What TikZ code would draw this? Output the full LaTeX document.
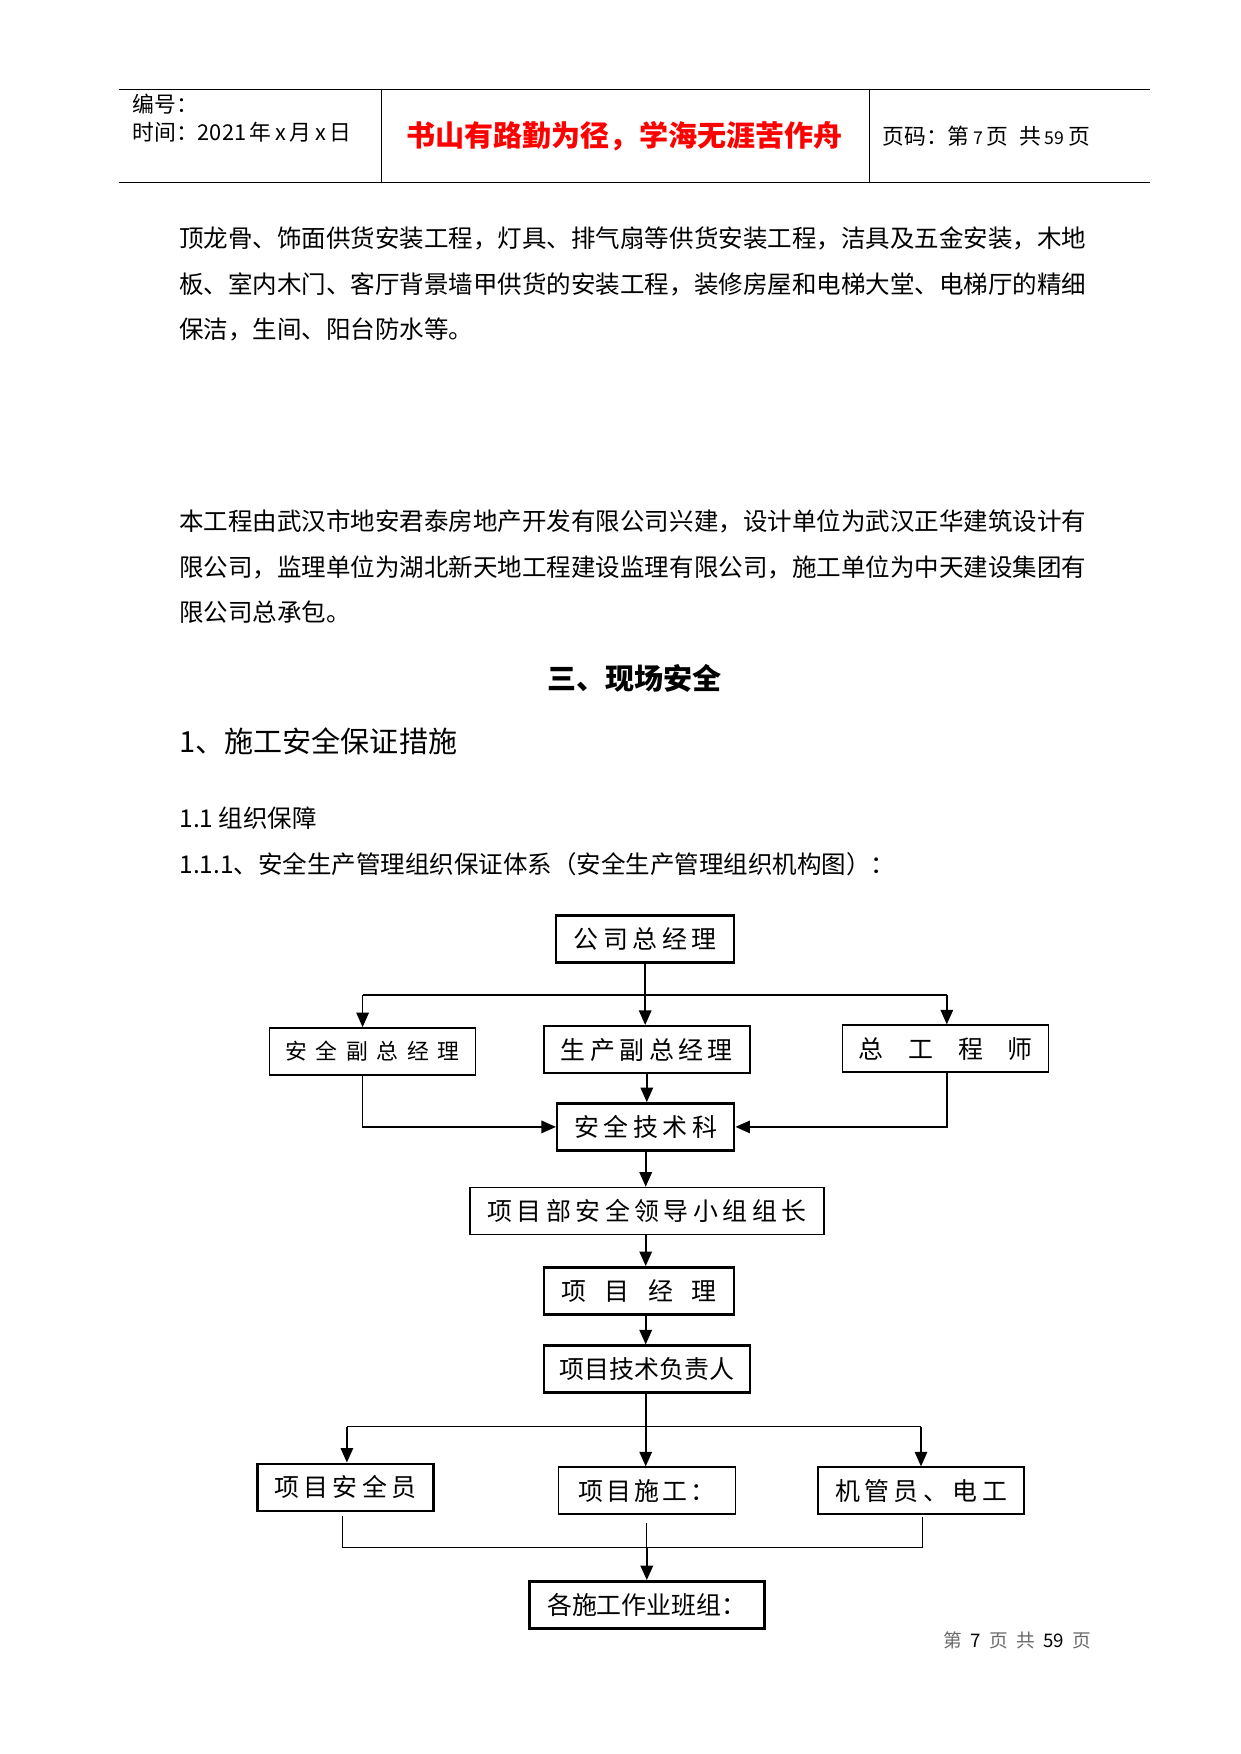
\documentclass[tikz,border=0pt]{standalone}
\usepackage{fontspec}
\setmainfont{Noto Sans CJK SC}
\usetikzlibrary{positioning, arrows.meta}
\definecolor{MottoRed}{RGB}{255, 0, 0}
\definecolor{FooterGray}{RGB}{105, 105, 105}
\newcommand{\pxu}{0.16925mm}

\begin{document}
\begin{tikzpicture}[
    x=0.16925mm, y=-0.16925mm,
    font=\fontsize{12}{14}\selectfont,
    textline/.style={anchor=west, inner sep=0pt, font=\fontsize{11.8}{14}\selectfont},
    headline/.style={anchor=west, inner sep=0pt, font=\fontsize{10.5}{12}\selectfont},
    boxstyle/.style={rectangle, draw=black, line width=0.7pt, fill=white, inner sep=0pt, minimum height=47*\pxu, font=\fontsize{12}{14}\selectfont},
    thickbox/.style={boxstyle, line width=1.2pt},
    spaced/.style={font=\fontsize{12}{14}\selectfont\addfontfeature{LetterSpace=18}},
    arrowstyle/.style={-{Triangle[length=7pt, width=6pt]}, line width=0.8pt},
    thinline/.style={line width=0.5pt}
]
    \useasboundingbox (0,0) rectangle (1241,1754);

    % Page header
    \draw [thinline] (118.6,89.5) -- (1150,89.5);
    \draw [thinline] (118.6,182.4) -- (1150,182.4);
    \draw [thinline] (381.6,89.5) -- (381.6,182.4);
    \draw [thinline] (869.5,89.5) -- (869.5,182.4);
    \node (hd_no) [headline] at (132,104) {编号：};
    \node (hd_date) [headline] at (132,132) {时间：2021\,年\,x\,月\,x\,日};
    \node (hd_motto) [inner sep=0pt, font=\fontsize{14}{16}\selectfont\bfseries, text=MottoRed] at (624.5,136.5) {书山有路勤为径，学海无涯苦作舟};
    \node (hd_page) [headline] at (882,136.5) {页码：第\,{\fontsize{8.5}{10}\selectfont 7}\,页\hspace{0.5em}共\,{\fontsize{8.5}{10}\selectfont 59}\,页};

    % Body text
    \node (p1_a) [textline] at (179,238) {顶龙骨、饰面供货安装工程，灯具、排气扇等供货安装工程，洁具及五金安装，木地};
    \node (p1_b) [textline] at (179,284) {板、室内木门、客厅背景墙甲供货的安装工程，装修房屋和电梯大堂、电梯厅的精细};
    \node (p1_c) [textline] at (179,329) {保洁，生间、阳台防水等。};
    \node (p2_a) [textline] at (179,521.5) {本工程由武汉市地安君泰房地产开发有限公司兴建，设计单位为武汉正华建筑设计有};
    \node (p2_b) [textline] at (179,567.4) {限公司，监理单位为湖北新天地工程建设监理有限公司，施工单位为中天建设集团有};
    \node (p2_c) [textline] at (179,612.2) {限公司总承包。};
    \node (sec_title) [inner sep=0pt, font=\fontsize{14}{16}\selectfont\bfseries] at (634.5,678) {三、现场安全};
    \node (sec_1) [anchor=west, inner sep=0pt, font=\fontsize{14}{16}\selectfont] at (179,741) {1、施工安全保证措施};
    \node (sec_11) [textline] at (179,818) {1.1 组织保障};
    \node (sec_111) [textline] at (179,864) {1.1.1、安全生产管理组织保证体系（安全生产管理组织机构图）：};

    % Level 1: company
    \node (gm) [thickbox, spaced, minimum width=178*\pxu] at (645.2,938.9) {公司总经理};

    % Level 2: deputies
    \node (safety_vp) [boxstyle, minimum width=206*\pxu, font=\fontsize{10.5}{12}\selectfont\addfontfeature{LetterSpace=40}] at (372.6,1051.4) {安全副总经理};
    \node (prod_vp) [thickbox, spaced, minimum width=206*\pxu] at (646.8,1049.7) {生产副总经理};
    \node (chief_eng) [boxstyle, minimum width=206*\pxu] at (945.6,1048.6) {总\hspace{1em}工\hspace{1em}程\hspace{1em}师};

    % Level 3: project chain
    \node (safety_dept) [thickbox, spaced, minimum width=177*\pxu] at (645.7,1126.9) {安全技术科};
    \node (leader) [boxstyle, spaced, minimum width=354*\pxu] at (646.9,1210.9) {项目部安全领导小组组长};
    \node (pm) [thickbox, minimum width=190*\pxu] at (639,1290.8) {项\hspace{0.75em}目\hspace{0.75em}经\hspace{0.75em}理};
    \node (tech) [thickbox, minimum width=206*\pxu] at (646.8,1369.2) {项目技术负责人};

    % Level 4: site staff
    \node (safety_off) [thickbox, spaced, minimum width=176*\pxu] at (345.3,1487.3) {项目安全员};
    \node (construct) [boxstyle, minimum width=177*\pxu, font=\fontsize{12}{14}\selectfont\addfontfeature{LetterSpace=12}] at (646.8,1490.6) {项目施工：};
    \node (mech) [boxstyle, spaced, minimum width=206*\pxu] at (921,1490.6) {机管员、电工};

    % Level 5: work teams
    \node (teams) [thickbox, minimum width=235*\pxu] at (646.8,1604.8) {各施工作业班组：};

    % Bus coordinates
    \coordinate (bus1_l) at (362.6,994.9);
    \coordinate (bus1_r) at (946.8,994.9);
    \coordinate (bus2_l) at (346.9,1426.8);
    \coordinate (bus2_m) at (645.7,1426.8);
    \coordinate (bus2_r) at (921,1426.8);
    \coordinate (bus3_l) at (342.4,1547.7);
    \coordinate (bus3_m) at (646.8,1547.7);
    \coordinate (bus3_r) at (922.1,1547.7);

    % Connections
    \draw [line width=0.8pt] (gm.south) -- (gm.south |- bus1_l);
    \draw [line width=0.8pt] (bus1_l) -- (bus1_r);
    \draw [arrowstyle] (bus1_l) -- (bus1_l |- safety_vp.north);
    \draw [arrowstyle] (gm.south) -- (gm.south |- prod_vp.north);
    \draw [arrowstyle] (bus1_r) -- (bus1_r |- chief_eng.north);

    \draw [arrowstyle] (prod_vp.south) -- (prod_vp.south |- safety_dept.north);
    \draw [arrowstyle] (bus1_l |- safety_vp.south) |- (safety_dept.west);
    \draw [arrowstyle] (bus1_r |- chief_eng.south) |- (safety_dept.east);

    \draw [arrowstyle] (safety_dept.south) -- (safety_dept.south |- leader.north);
    \draw [arrowstyle] (safety_dept.south |- leader.south) -- (safety_dept.south |- pm.north);
    \draw [arrowstyle] (safety_dept.south |- pm.south) -- (safety_dept.south |- tech.north);

    \draw [line width=0.8pt] (bus2_m |- tech.south) -- (bus2_m);
    \draw [thinline] (bus2_l) -- (bus2_r);
    \draw [arrowstyle] (bus2_l) -- (bus2_l |- safety_off.north);
    \draw [arrowstyle] (bus2_m) -- (bus2_m |- construct.north);
    \draw [arrowstyle] (bus2_r) -- (bus2_r |- mech.north);

    \draw [thinline] ([yshift=-2pt] bus3_l |- safety_off.south) -- (bus3_l);
    \draw [thinline] ([yshift=-4pt] bus3_m |- construct.south) -- (bus3_m);
    \draw [thinline] ([yshift=-1pt] bus3_r |- mech.south) -- (bus3_r);
    \draw [thinline] (bus3_l) -- (bus3_r);
    \draw [arrowstyle, line width=1.1pt] (bus3_m) -- (teams.north);

    % Page footer
    \node (ft_page) [anchor=west, inner sep=0pt, font=\fontsize{9}{11}\selectfont, text=FooterGray] at (943,1640.5) {第\hspace{0.45em}\textcolor{black}{7}\hspace{0.45em}页\hspace{0.45em}共\hspace{0.45em}\textcolor{black}{59}\hspace{0.45em}页};

\end{tikzpicture}
\end{document}
